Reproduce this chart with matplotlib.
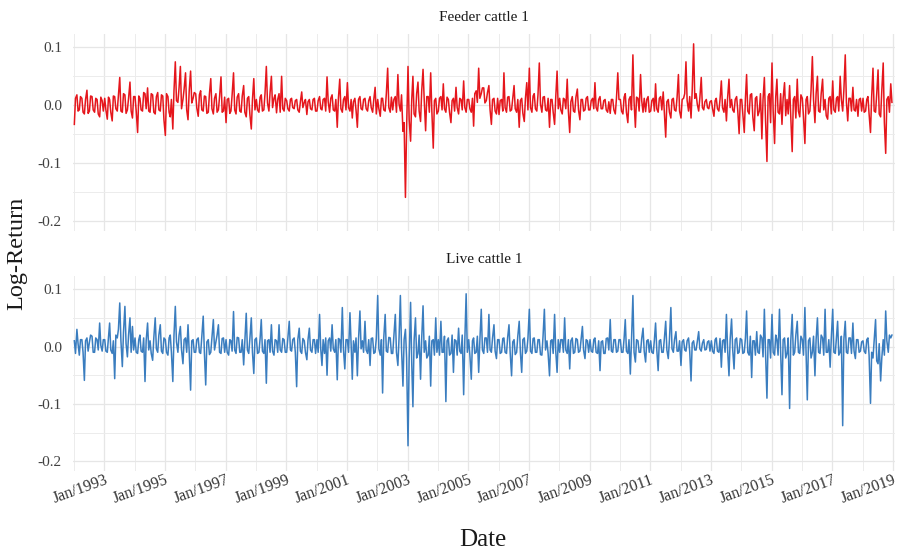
import matplotlib
matplotlib.use("Agg")
import matplotlib.pyplot as plt
import pandas as pd

# Half-monthly log-returns, one row per calendar year (24 values), 1992-2018
first_period = "1992-01-01"

feeder = [
    -0.033, 0.012, 0.018, -0.010, -0.008, 0.015, 0.012, -0.012, -0.015, 0.010, 0.026, -0.014, -0.010, 0.016, 0.015, -0.008, -0.012, 0.012, 0.010, -0.015, -0.020, 0.014, 0.008, -0.010,  # 1992
    0.012, -0.008, -0.024, 0.014, 0.010, -0.012, -0.027, 0.016, 0.015, -0.006, -0.010, 0.018, 0.048, -0.010, -0.012, 0.020, 0.018, -0.014, -0.008, 0.012, 0.040, -0.010, -0.022, 0.015,  # 1993
    0.015, -0.010, -0.047, 0.016, 0.012, -0.008, -0.010, 0.022, 0.020, -0.006, 0.030, -0.010, -0.012, 0.020, 0.018, -0.012, -0.015, 0.015, 0.022, -0.008, -0.010, 0.018, 0.016, -0.025,  # 1994
    -0.052, 0.020, 0.015, -0.012, -0.020, 0.010, -0.041, 0.025, 0.075, 0.008, 0.005, 0.030, 0.067, -0.006, 0.010, 0.028, 0.056, -0.008, -0.025, 0.024, 0.059, 0.004, 0.012, 0.022,  # 1995
    0.020, -0.005, -0.019, 0.018, 0.025, -0.008, -0.010, 0.016, 0.015, -0.014, -0.012, 0.020, 0.046, -0.006, -0.015, 0.012, 0.020, -0.012, -0.008, 0.015, 0.049, -0.012, -0.010, 0.014,  # 1996
    -0.030, 0.010, 0.012, -0.014, -0.010, 0.018, 0.056, -0.008, -0.015, 0.014, 0.020, -0.010, -0.012, 0.016, 0.034, -0.012, -0.020, 0.012, 0.015, -0.016, -0.041, 0.010, 0.046, -0.008,  # 1997
    0.010, -0.008, -0.012, 0.014, 0.018, -0.010, -0.008, 0.020, 0.067, 0.004, -0.010, 0.022, 0.050, -0.004, 0.012, 0.018, -0.013, 0.010, 0.020, -0.012, 0.050, -0.006, -0.010, 0.012,  # 1998
    0.008, -0.006, -0.010, 0.010, 0.012, -0.004, -0.006, 0.008, 0.010, -0.008, -0.012, 0.006, 0.023, -0.004, 0.005, 0.010, -0.016, 0.006, 0.010, -0.006, -0.008, 0.010, 0.012, -0.010,  # 1999
    -0.010, 0.008, 0.015, -0.006, -0.008, 0.010, 0.012, -0.010, 0.049, 0.006, -0.012, 0.012, 0.018, -0.008, -0.010, 0.010, -0.038, 0.012, 0.045, -0.006, -0.012, 0.010, 0.015, -0.008,  # 2000
    0.039, -0.004, -0.010, 0.010, -0.022, 0.006, 0.012, -0.008, -0.038, 0.010, 0.015, -0.006, -0.008, 0.010, 0.012, -0.006, -0.010, 0.008, 0.015, -0.004, -0.012, 0.010, 0.031, -0.015,  # 2001
    0.010, -0.006, -0.019, 0.012, 0.012, -0.008, -0.010, 0.020, 0.064, -0.004, -0.012, 0.014, -0.008, 0.010, 0.015, -0.012, 0.053, 0.002, -0.010, 0.018, -0.045, -0.030, -0.159, -0.040,  # 2002
    0.067, -0.025, -0.062, 0.010, 0.050, -0.015, -0.020, 0.020, 0.040, -0.010, -0.028, 0.025, 0.062, 0.010, -0.044, 0.015, 0.015, -0.012, 0.056, -0.010, -0.074, 0.008, 0.012, -0.015,  # 2003
    -0.010, 0.012, 0.015, -0.008, 0.037, -0.006, -0.012, 0.014, 0.010, -0.012, -0.030, 0.008, 0.012, -0.010, 0.031, -0.004, -0.015, 0.012, 0.010, -0.008, 0.042, -0.004, -0.012, 0.010,  # 2004
    0.010, -0.006, -0.012, 0.012, -0.036, 0.020, 0.025, 0.005, 0.064, 0.012, 0.020, 0.030, 0.030, 0.004, 0.008, 0.022, 0.034, -0.008, -0.033, 0.010, 0.012, -0.010, -0.015, 0.012,  # 2005
    -0.016, 0.008, 0.010, -0.010, 0.056, -0.004, -0.012, 0.014, 0.015, -0.010, -0.008, 0.012, 0.034, -0.006, -0.012, 0.010, -0.038, 0.008, 0.012, -0.014, -0.028, 0.012, 0.039, -0.008,  # 2006
    0.064, -0.004, -0.012, 0.016, 0.020, -0.006, -0.010, 0.018, 0.073, 0.002, -0.012, 0.014, 0.015, -0.008, -0.010, 0.012, -0.038, 0.010, 0.010, -0.012, -0.033, 0.014, 0.059, -0.006,  # 2007
    0.012, -0.008, -0.015, 0.012, 0.010, -0.006, 0.045, -0.010, -0.047, 0.006, 0.015, -0.010, -0.012, 0.014, 0.028, -0.008, -0.025, 0.010, 0.010, -0.010, -0.008, 0.012, 0.015, -0.008,  # 2008
    -0.008, 0.008, 0.012, -0.006, 0.039, -0.004, -0.010, 0.010, 0.015, -0.006, -0.006, 0.008, 0.010, -0.008, -0.012, 0.006, -0.014, 0.010, 0.010, -0.008, -0.015, 0.012, 0.056, 0.010,  # 2009
    0.010, -0.010, -0.015, 0.014, 0.020, -0.012, -0.030, 0.010, 0.015, -0.008, 0.087, 0.006, -0.038, 0.014, 0.012, -0.010, 0.053, 0.008, -0.012, 0.012, -0.011, 0.010, 0.015, -0.012,  # 2010
    -0.010, 0.008, 0.012, -0.010, 0.037, -0.006, -0.012, 0.012, 0.015, -0.008, 0.023, -0.012, -0.055, 0.006, 0.010, -0.012, -0.022, 0.010, 0.012, -0.008, -0.010, 0.014, 0.053, -0.010,  # 2011
    -0.022, 0.010, 0.012, 0.020, 0.075, 0.008, -0.010, 0.015, -0.022, 0.025, 0.106, 0.012, 0.020, 0.002, -0.010, 0.012, 0.048, -0.004, -0.008, 0.006, 0.010, -0.004, -0.006, 0.006,  # 2012
    0.008, -0.006, -0.019, 0.008, 0.012, -0.006, -0.010, 0.010, 0.042, -0.004, -0.012, 0.010, -0.027, 0.012, 0.045, -0.004, 0.010, -0.008, -0.012, 0.010, 0.015, -0.010, -0.049, 0.010,  # 2013
    0.010, -0.015, -0.047, 0.012, 0.053, -0.010, -0.015, 0.018, 0.020, -0.020, -0.044, 0.012, 0.015, -0.018, -0.010, 0.020, -0.058, 0.010, 0.048, -0.025, -0.097, 0.015, 0.020, -0.030,  # 2014
    0.073, -0.010, -0.066, 0.015, 0.045, -0.012, -0.015, 0.020, -0.033, 0.012, 0.039, -0.018, 0.010, -0.015, 0.034, -0.020, -0.080, 0.010, 0.015, -0.022, 0.045, -0.010, -0.020, 0.018,  # 2015
    0.012, -0.020, -0.066, 0.010, 0.015, -0.015, -0.010, 0.025, 0.084, 0.010, -0.030, 0.020, 0.050, -0.010, -0.012, 0.020, 0.045, -0.008, 0.010, -0.018, -0.024, 0.012, 0.015, -0.015,  # 2016
    0.042, -0.008, -0.012, 0.012, 0.015, -0.010, 0.050, 0.010, -0.010, 0.025, 0.087, 0.005, -0.027, 0.012, 0.012, -0.010, 0.031, -0.008, -0.010, 0.010, -0.019, 0.010, 0.012, -0.010,  # 2017
    0.012, -0.012, -0.010, 0.010, 0.015, -0.015, -0.047, 0.015, 0.064, -0.010, -0.012, 0.020, 0.061, -0.015, -0.020, 0.025, 0.073, -0.030, -0.083, 0.010, 0.015, -0.012, 0.037, 0.005,  # 2018
]

live = [
    0.010, -0.012, 0.030, 0.005, -0.015, 0.012, 0.012, -0.010, -0.059, 0.010, 0.015, -0.008, 0.008, 0.020, 0.018, -0.010, -0.010, 0.015, 0.012, -0.006, 0.041, 0.002, -0.008, 0.012,  # 1992
    0.012, -0.008, -0.010, 0.015, 0.041, -0.006, -0.012, 0.010, -0.056, 0.020, 0.015, 0.030, 0.076, 0.010, -0.035, 0.025, 0.070, 0.005, -0.018, 0.020, 0.050, -0.010, 0.035, -0.006,  # 1993
    0.015, -0.010, -0.012, 0.012, 0.020, -0.008, -0.010, 0.015, -0.061, 0.010, 0.041, -0.006, 0.010, -0.012, -0.024, 0.015, 0.050, -0.004, -0.010, 0.020, 0.038, -0.008, -0.012, 0.015,  # 1994
    0.012, -0.010, -0.015, 0.015, 0.020, -0.010, -0.061, 0.020, 0.070, 0.008, -0.010, 0.020, 0.035, -0.006, -0.030, 0.012, 0.015, -0.010, 0.038, -0.008, -0.076, 0.010, 0.012, -0.010,  # 1995
    -0.010, 0.012, 0.015, -0.010, -0.012, 0.018, 0.053, -0.010, -0.067, 0.008, 0.012, -0.014, -0.010, 0.016, 0.047, -0.006, 0.008, 0.020, 0.038, -0.010, -0.012, 0.014, 0.015, -0.010,  # 1996
    0.012, -0.010, -0.015, 0.012, 0.010, -0.008, 0.061, -0.006, -0.012, 0.016, 0.015, -0.010, -0.010, 0.012, -0.032, 0.010, 0.058, -0.006, -0.012, 0.014, 0.050, -0.010, -0.047, 0.012,  # 1997
    0.015, -0.012, -0.010, 0.014, 0.047, -0.008, -0.012, 0.012, -0.064, 0.010, 0.012, -0.010, 0.038, -0.008, -0.015, 0.012, 0.010, -0.010, 0.038, -0.006, -0.010, 0.014, 0.012, -0.010,  # 1998
    -0.010, 0.014, 0.044, -0.006, -0.008, 0.012, 0.015, -0.010, -0.070, 0.012, 0.032, -0.008, -0.012, 0.014, 0.010, -0.010, -0.023, 0.012, 0.032, -0.006, -0.010, 0.012, 0.012, -0.012,  # 1999
    0.012, -0.010, 0.056, -0.004, -0.033, 0.012, -0.012, 0.015, -0.050, 0.010, 0.015, -0.008, 0.038, -0.004, -0.010, 0.012, -0.058, 0.014, 0.012, -0.010, 0.068, -0.006, -0.039, 0.012,  # 2000
    0.012, -0.010, 0.059, 0.004, -0.057, 0.010, -0.010, 0.015, -0.051, 0.012, 0.062, -0.004, 0.010, -0.010, 0.044, -0.006, -0.012, 0.012, -0.033, 0.014, 0.015, -0.012, -0.010, 0.014,  # 2001
    0.089, -0.004, -0.015, 0.012, -0.081, 0.015, 0.056, -0.008, -0.010, 0.016, 0.015, -0.012, -0.012, 0.020, 0.056, -0.010, -0.033, 0.015, 0.089, -0.004, -0.069, 0.012, 0.030, -0.020,  # 2002
    -0.173, -0.020, 0.077, -0.030, -0.105, 0.010, 0.050, -0.020, -0.012, 0.020, -0.057, 0.015, 0.071, -0.010, 0.010, -0.020, -0.015, 0.018, -0.069, 0.010, 0.012, -0.015, 0.050, -0.010,  # 2003
    0.012, -0.015, 0.044, -0.010, -0.010, 0.018, -0.096, 0.010, 0.015, -0.015, -0.012, 0.020, -0.045, 0.012, 0.010, -0.015, 0.032, -0.008, -0.012, 0.020, -0.084, 0.010, 0.092, -0.010,  # 2004
    0.012, -0.015, -0.057, 0.010, 0.015, -0.012, -0.010, 0.018, -0.045, 0.010, 0.065, -0.006, -0.012, 0.015, 0.015, -0.010, 0.056, -0.006, -0.010, 0.015, 0.038, -0.008, -0.021, 0.012,  # 2005
    0.012, -0.012, -0.010, 0.014, 0.015, -0.010, -0.012, 0.016, 0.038, -0.010, -0.051, 0.008, 0.012, -0.014, -0.010, 0.018, 0.044, -0.010, -0.045, 0.012, 0.015, -0.012, -0.008, 0.014,  # 2006
    0.065, -0.008, -0.012, 0.014, 0.015, -0.010, -0.010, 0.012, 0.012, -0.014, -0.015, 0.018, 0.065, -0.006, 0.010, -0.012, -0.051, 0.010, 0.012, -0.012, 0.056, -0.008, -0.045, 0.012,  # 2007
    -0.010, 0.012, 0.012, -0.010, 0.050, -0.006, -0.012, 0.012, -0.039, 0.010, 0.015, -0.012, -0.010, 0.014, 0.012, -0.010, -0.008, 0.012, 0.035, -0.006, -0.021, 0.012, 0.010, -0.010,  # 2008
    0.012, -0.008, -0.010, 0.012, 0.015, -0.010, -0.012, 0.010, -0.042, 0.008, 0.010, -0.012, -0.012, 0.014, 0.015, -0.006, 0.047, -0.008, -0.010, 0.012, 0.012, -0.010, -0.008, 0.012,  # 2009
    0.012, -0.010, -0.010, 0.014, 0.047, -0.008, -0.012, 0.012, -0.048, 0.010, 0.089, -0.010, -0.027, 0.012, 0.010, -0.010, -0.010, 0.014, 0.032, -0.008, -0.027, 0.010, 0.012, -0.010,  # 2010
    0.010, -0.010, -0.012, 0.012, 0.041, -0.004, -0.042, 0.010, 0.012, -0.010, -0.010, 0.014, 0.044, -0.006, -0.021, 0.012, 0.068, -0.004, -0.010, 0.012, 0.026, -0.008, -0.008, 0.010,  # 2011
    -0.033, 0.008, 0.012, -0.006, -0.008, 0.010, 0.015, -0.008, -0.060, 0.006, 0.010, -0.006, -0.006, 0.008, 0.026, -0.004, -0.008, 0.006, 0.012, -0.006, -0.005, 0.008, 0.010, -0.008,  # 2012
    0.010, -0.008, -0.012, 0.012, 0.015, -0.008, -0.010, 0.014, -0.036, 0.010, 0.012, -0.010, 0.056, -0.004, -0.051, 0.012, 0.048, -0.006, -0.039, 0.012, 0.015, -0.012, -0.010, 0.014,  # 2013
    0.012, -0.012, -0.010, 0.015, 0.062, -0.010, -0.015, 0.018, -0.054, 0.010, 0.010, -0.015, 0.026, -0.010, -0.012, 0.020, 0.015, -0.018, 0.065, -0.010, -0.090, 0.012, 0.012, -0.020,  # 2014
    0.056, -0.010, -0.015, 0.020, 0.012, -0.015, 0.065, -0.010, -0.084, 0.012, 0.015, -0.020, -0.012, 0.015, -0.108, 0.010, 0.056, -0.015, -0.010, 0.020, 0.044, -0.010, -0.012, 0.018,  # 2015
    0.012, -0.015, 0.068, -0.010, -0.093, 0.010, 0.015, -0.020, -0.010, 0.018, -0.051, 0.012, 0.050, -0.010, -0.012, 0.020, 0.015, -0.015, 0.065, -0.010, -0.010, 0.012, -0.036, 0.015,  # 2016
    0.065, -0.010, -0.012, 0.015, 0.044, -0.015, -0.010, 0.018, -0.138, 0.012, 0.044, -0.010, -0.012, 0.015, 0.015, -0.012, 0.041, -0.008, -0.021, 0.012, 0.012, -0.010, -0.008, 0.008,  # 2017
    0.010, -0.008, -0.012, 0.012, 0.015, -0.015, -0.099, -0.010, -0.020, 0.010, 0.047, -0.025, -0.030, 0.005, -0.060, -0.020, 0.012, -0.015, 0.062, 0.010, -0.010, 0.020, 0.015, 0.020,  # 2018
]

panel_titles = ["Feeder cattle 1", "Live cattle 1"]
line_colors = ["#e5161c", "#3a7dbf"]
y_ticks = [-0.2, -0.1, 0.0, 0.1]
y_tick_labels = ["-0.2", "-0.1", "0.0", "0.1"]
y_minor = [-0.15, -0.05, 0.05]
label_years = list(range(1993, 2020, 2))
grid_years = list(range(1992, 2020))

plt.rcParams["font.family"] = ["Liberation Serif", "DejaVu Serif"]

dates = pd.date_range(first_period, periods=len(feeder), freq="SMS") + pd.Timedelta(days=4)

W, H = 905, 553
fig = plt.figure(figsize=(W / 100, H / 100), dpi=100)


def px_axes(x0, y0, x1, y1):
    return fig.add_axes([x0 / W, 1 - y1 / H, (x1 - x0) / W, (y1 - y0) / H])


axes = [px_axes(73, 34, 895, 231), px_axes(73, 276, 895, 471)]

for i, (ax, series, title, color) in enumerate(
        zip(axes, [feeder, live], panel_titles, line_colors)):
    ax.plot(dates, series, color=color, lw=1.1, zorder=3)
    ax.set_ylim(-0.217, 0.123)
    ax.set_xlim(pd.Timestamp("1991-12-20"), pd.Timestamp("2019-01-25"))

    ax.set_yticks(y_ticks)
    ax.set_yticklabels(y_tick_labels)
    ax.set_yticks(y_minor, minor=True)
    ax.set_xticks([pd.Timestamp(f"{y}-01-01") for y in label_years])
    ax.set_xticklabels([f"Jan/{y}" for y in label_years])
    ax.set_xticks([pd.Timestamp(f"{y}-01-01") for y in grid_years
                   if y not in label_years], minor=True)

    ax.grid(True, which="major", color="#e6e6e6", lw=0.9, zorder=0)
    ax.grid(True, which="minor", color="#ececec", lw=0.7, zorder=0)
    ax.set_axisbelow(True)
    for s in ax.spines.values():
        s.set_visible(False)
    ax.tick_params(which="both", length=0)
    ax.tick_params(axis="y", pad=8, labelsize=11, labelcolor="#404040")
    ax.tick_params(axis="x", pad=1, labelsize=11.5, labelcolor="#333333")

    ax.annotate(title, xy=(0.5, 1.0), xycoords="axes fraction",
                xytext=(0, 12), textcoords="offset points",
                ha="center", va="center", fontsize=11, color="#1a1a1a")

    if i == 0:
        ax.tick_params(axis="x", labelbottom=False)
    else:
        for lab in ax.get_xticklabels():
            lab.set_rotation(20)
            lab.set_ha("right")
            lab.set_va("top")
            lab.set_rotation_mode("anchor")

fig.text(17 / W, 1 - 253 / H, "Log-Return", rotation=90, ha="center", va="center",
         fontsize=17.5, color="#1a1a1a")
fig.text(483 / W, 1 - 540 / H, "Date", ha="center", va="center",
         fontsize=18, color="#1a1a1a")

fig.savefig("out.png", dpi=100, facecolor="white")
